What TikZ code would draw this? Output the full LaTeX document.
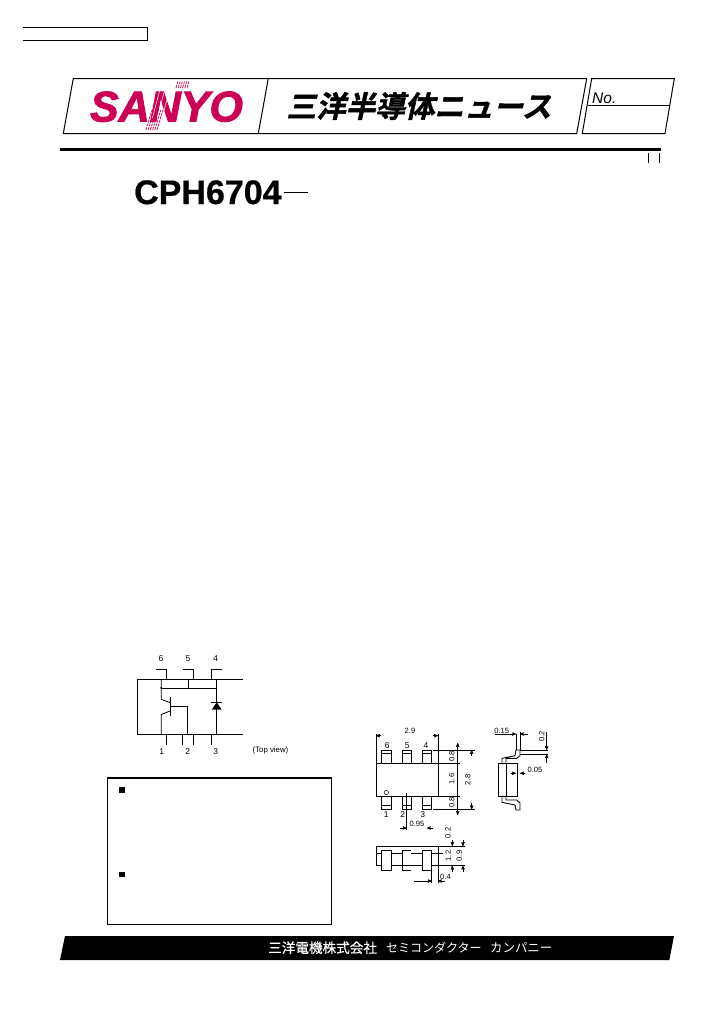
\documentclass[tikz,border=0pt]{standalone}
\usepackage{fontspec}
\setmainfont{Liberation Sans}
\newfontfamily\cjktitle[FakeSlant=0.22,FakeBold=1.5]{Noto Sans CJK JP Bold}
\newfontfamily\cjkfoot{Noto Sans CJK JP}
\newfontfamily\cjkfootb[FakeBold=0.6]{Noto Sans CJK JP}
\newfontfamily\sanyofont[FakeBold=2]{Liberation Sans Bold Italic}
\newfontfamily\partfont[FakeBold=0.6]{Liberation Sans Bold}
\usetikzlibrary{positioning, arrows}
\definecolor{sanyored}{RGB}{204,0,85}
\newcommand{\pxfont}[1]{\fontsize{#1}{#1}\selectfont}
\tikzset{
>=stealth', % small bold heads for the dimensions
wire/.style={line width=0.8pt}, % lines of the circuit
frame/.style={line width=1pt}, % header and box frames
outline/.style={line width=0.9pt}, % package outline
dimline/.style={line width=0.5pt}, % dimension lines
pinlabel/.style={font=\pxfont{8.5}, inner sep=0pt}, % pin numbers
dimlabel/.style={font=\pxfont{7.6}, inner sep=0pt}, % dimension values
footjp/.style={font=\cjkfoot\pxfont{13.4}, text=white, inner sep=0pt, anchor=west}, % footer text
}

\begin{document}
\begin{tikzpicture}[x=1pt, y=-1pt]
    \useasboundingbox (0,0) rectangle (720,1012);
    \fill[white] (0,0) rectangle (720,1012);

    % top left box
    \draw[frame] (23,27.5) -- (147,27.5) -- (147,40.5) -- (23,40.5);

    % header
    \draw[frame] (73.3,78.5) -- (586.7,78.5) -- (576.7,133.5) -- (63.3,133.5) -- cycle;
    \draw[frame] (268.3,78.5) -- (258.3,133.5);
    \draw[frame] (591.7,78.5) -- (674.3,78.5) -- (665,133.5) -- (582.3,133.5) -- cycle;
    \draw[line width=1.8pt] (588,105.5) -- (670,105.5);
    \node[font=\itshape\pxfont{15.5}, inner sep=0pt, anchor=base west] (no) at (592,103) {No.};
    \node[font=\sanyofont\pxfont{43}, text=sanyored, inner sep=0pt, anchor=base] (sanyo) at (166.5,121.5) {SANYO};
    \foreach \i in {0,...,5} {
        \draw[sanyored, line width=0.7pt, dash pattern=on 3pt off 0.8pt]
        (146+\i*2.2,130) -- (152+\i*2.2,110);
        \draw[sanyored, line width=0.7pt, dash pattern=on 3pt off 0.8pt]
        (176+\i*2.2,88) -- (178+\i*2.2,81);
    }
    \foreach \i in {1,3,5} {
        \draw[white, line width=0.5pt] (150+\i*2.4,118) -- (158+\i*2.4,88);
    }
    \node[font=\cjktitle\pxfont{29.6}, inner sep=0pt, anchor=center] (title) at (419,106) {三洋半導体ニュース};

    % rule and part number
    \draw[line width=3pt] (60,149.5) -- (661,149.5);
    \draw[dimline] (648.3,153) -- (648.3,162.7);
    \draw[dimline] (659,153) -- (659,162.7);
    \node[font=\partfont\pxfont{34}, inner sep=0pt, anchor=base west] (part) at (134,204) {CPH6704};
    \draw[dimline] (284,192.3) -- (307.7,192.3);

    % circuit
    \coordinate (tl) at (137.3,679);
    \coordinate (tr) at (242.7,679);
    \coordinate (bl) at (137.3,734.3);
    \coordinate (br) at (242.7,734.3);
    \draw[wire] (tr) -- (tl) -- (bl) -- (br);
    \draw[wire] (156,669) -- (166.7,669) -- (166.7,679);
    \draw[wire] (183,669) -- (193.7,669) -- (193.7,679);
    \draw[wire] (222,669) -- (211.3,669) -- (211.3,679);
    \draw[wire] (166.3,734.3) -- (166.3,745);
    \draw[wire] (182.3,734.3) -- (182.3,745);
    \draw[wire] (193.3,734.3) -- (193.3,745);
    \draw[wire] (211.3,734.3) -- (211.3,745);
    \coordinate (cdot) at (161.3,688);
    \coordinate (cjoin) at (188.3,688);
    \coordinate (djoin) at (216.7,688);
    \fill (cdot) circle (1.2pt);
    \draw[wire] (cdot) -- (djoin);
    \draw[wire] (188.3,679) -- (cjoin);
    \draw[wire] (216.7,679) -- (216.7,734.3);
    \draw[wire] (161.3,679) -- (cdot) -- (161.3,699.3) -- (170,702.7);
    \draw[wire] (170,697.3) -- (170,715.7);
    \draw[wire] (170,706.7) -- (187.7,706.7) -- (187.7,734.3);
    \draw[wire] (161.3,734.3) -- (161.3,714.5) -- (170,711);
    \draw[wire] (211.3,702.3) -- (221.7,702.3);
    \fill (216.7,702.3) -- (221.7,709.7) -- (211.7,709.7) -- cycle;
    \node[pinlabel] (top6) at (161,659) {6};
    \node[pinlabel] (top5) at (188,659) {5};
    \node[pinlabel] (top4) at (215.7,659) {4};
    \node[pinlabel] (bot1) at (161.7,751.7) {1};
    \node[pinlabel] (bot2) at (187.7,751.7) {2};
    \node[pinlabel] (bot3) at (215.7,751.7) {3};
    \node[font=\pxfont{7.8}, inner sep=0pt] (view) at (270.5,750) {(Top view)};

    % package, top view
    \draw[outline] (376,763.3) rectangle (438,796);
    \draw[outline] (381.7,763.3) rectangle (391,750);
    \draw[outline] (402.3,763.3) rectangle (411,750);
    \draw[outline] (422.7,763.3) rectangle (431.3,750);
    \draw[outline] (381.7,753.3) -- (391,753.3);
    \draw[outline] (402.3,753.3) -- (411,753.3);
    \draw[outline] (422.7,753.3) -- (431.3,753.3);
    \draw[outline] (381.7,796) rectangle (391,809.3);
    \draw[outline] (402.3,796) rectangle (411,809.3);
    \draw[outline] (422.7,796) rectangle (431.3,809.3);
    \draw[outline] (381.7,805.7) -- (391,805.7);
    \draw[outline] (402.3,805.7) -- (411,805.7);
    \draw[outline] (422.7,805.7) -- (431.3,805.7);
    \draw[dimline] (386.3,792.5) circle (2.2pt);
    \node[pinlabel] (lead6) at (387.3,745.5) {6};
    \node[pinlabel] (lead5) at (407.3,745.5) {5};
    \node[pinlabel] (lead4) at (426,745.5) {4};
    \node[pinlabel] (lead1) at (386.3,814.5) {1};
    \node[pinlabel] (lead2) at (402.7,814.5) {2};
    \node[pinlabel] (lead3) at (422.7,814.5) {3};

    % dimensions of the top view
    \draw[dimline] (376,734) -- (376,763.3);
    \draw[dimline] (438,734) -- (438,763.3);
    \draw[dimline, ->] (381,735.7) -- (376,735.7);
    \draw[dimline, ->] (433,735.7) -- (438,735.7);
    \node[dimlabel] (w29) at (410,731) {2.9};
    \draw[dimline] (433,750) -- (475,750);
    \draw[dimline] (439,763.3) -- (460,763.3);
    \draw[dimline] (439,796) -- (460,796);
    \draw[dimline] (433,809.3) -- (475,809.3);
    \draw[dimline, <->] (457.7,743) -- (457.7,815);
    \node[dimlabel, rotate=90] (h08a) at (451.7,756.7) {0.8};
    \node[dimlabel, rotate=90] (h16) at (451.7,779) {1.6};
    \node[dimlabel, rotate=90] (h08b) at (451.7,802.7) {0.8};
    \node[dimlabel, rotate=90] (h28) at (467.7,780) {2.8};
    \draw[dimline, ->] (471.7,756) -- (471.7,750);
    \draw[dimline, ->] (471.7,803) -- (471.7,809.3);
    \draw[dimline] (406.7,793) -- (406.7,830);
    \draw[dimline, ->] (400,828) -- (406.7,828);
    \draw[dimline, ->] (433,828) -- (427,828);
    \node[dimlabel] (p095) at (417,824) {0.95};

    % package, side view
    \draw[outline] (498.3,763.3) rectangle (517.7,796);
    \draw[outline] (506,763.3) -- (506,796);
    \draw[outline] (502,763.3) -- (502,758.3) -- (515,755.7) -- (516,750) -- (520,750) -- (520,755.7)
    -- (516.7,758.3) -- (506,758.3) -- (506,763.3);
    \draw[outline] (502,796) -- (502,802.3) -- (515,805) -- (516,810) -- (520,810) -- (520,803)
    -- (516.7,800) -- (506,800) -- (506,796);
    \node[dimlabel] (s015) at (501.7,730.4) {0.15};
    \draw[dimline, ->] (495,734) -- (516,734);
    \draw[dimline, ->] (528.3,734) -- (520,734);
    \draw[dimline] (516,734) -- (516,750);
    \draw[dimline] (520,731.7) -- (520,750);
    \draw[dimline] (520,750) -- (548.3,750);
    \draw[dimline] (520,754.3) -- (548.3,754.3);
    \draw[dimline, ->] (546.7,731.7) -- (546.7,750);
    \draw[dimline, ->] (546.7,763) -- (546.7,754.3);
    \node[dimlabel, rotate=90] (s02) at (541.7,736.7) {0.2};
    \node[dimlabel] (s005) at (535,770) {0.05};
    \draw[dimline, ->] (511,773.3) -- (516,773.3);
    \draw[dimline, ->] (525,773.3) -- (520,773.3);

    % package, front view
    \draw[outline] (376,846) -- (438,846) -- (438,865.7) -- (376,865.7) -- cycle;
    \draw[outline] (376,853.3) -- (381.7,853.3);
    \draw[outline] (391,853.3) -- (402.3,853.3);
    \draw[outline] (411,853.3) -- (422.7,853.3);
    \draw[outline] (431.3,853.3) -- (438,853.3);
    \draw[outline, fill=white] (381.7,850) rectangle (391,870);
    \draw[outline] (411,850) -- (402.3,850) -- (402.3,870) -- (411,870);
    \draw[outline, fill=white] (422.7,850) rectangle (431.3,870);
    \draw[dimline] (439,846) -- (465,846);
    \draw[dimline] (439,865.7) -- (465,865.7);
    \draw[dimline] (433,853.3) -- (443,853.3);
    \draw[dimline, ->] (452.3,840) -- (452.3,846);
    \draw[dimline, ->] (452.3,872) -- (452.3,865.7);
    \draw[dimline, ->] (463,840) -- (463,846);
    \draw[dimline, ->] (463,872) -- (463,865.7);
    \node[dimlabel, rotate=90] (f02) at (448,833) {0.2};
    \node[dimlabel, rotate=90] (f12) at (448.3,856) {1.2};
    \node[dimlabel, rotate=90] (f09) at (459.3,856) {0.9};
    \draw[dimline] (431.7,851.7) -- (431.7,883);
    \draw[dimline] (438,865.7) -- (438,883);
    \draw[dimline, ->] (414,881) -- (431.7,881);
    \draw[dimline, ->] (445,881) -- (438,881);
    \node[dimlabel, anchor=west] (f04) at (440,877) {0.4};

    % notes box
    \draw[line width=0.9pt] (107.5,777.7) rectangle (331.5,924.3);
    \draw[line width=2pt] (107,777.7) -- (332,777.7);
    \fill (119,787.3) rectangle (125,793);
    \fill (119,872) rectangle (125,877);

    % footer
    \fill (65,936) -- (674,936) -- (669.3,960) -- (60,960) -- cycle;
    \node[footjp, font=\cjkfootb\pxfont{13.6}] (foot1) at (268,947.7) {三洋電機株式会社};
    \node[footjp, font=\cjkfoot\pxfont{12}] (foot2) at (386,947.7) {セミコンダクター};
    \node[footjp, font=\cjkfoot\pxfont{12.4}] (foot3) at (490,947.7) {カンパニー};
\end{tikzpicture}
\end{document}
